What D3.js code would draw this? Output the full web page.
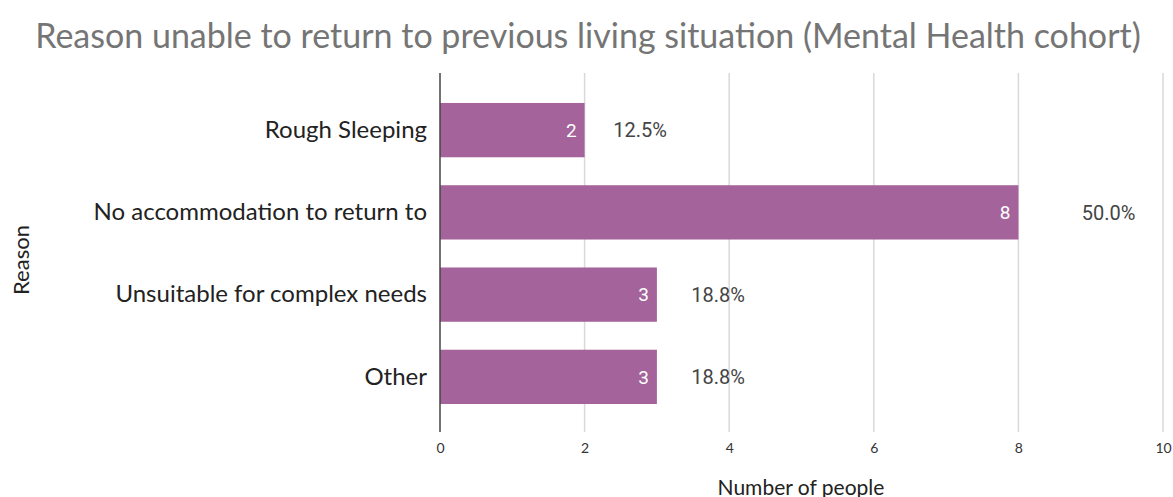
<!DOCTYPE html>
<html>
<head>
<meta charset="utf-8">
<script src="https://cdn.jsdelivr.net/npm/d3@7"></script>
<style>
  body { margin: 0; background: #fff; }
  svg { display: block; }
</style>
</head>
<body>
<div id="chart"></div>
<script>
// data
const reasons = ['Rough Sleeping', 'No accommodation to return to', 'Unsuitable for complex needs', 'Other']
const counts = [2, 8, 3, 3]
const percentLabels = ['12.5%', '50.0%', '18.8%', '18.8%']
const xTicks = [0, 2, 4, 6, 8, 10]

const width = 1173
const height = 497

let svg = d3.select('#chart').append('svg')
  .attr('width', width)
  .attr('height', height)

let x = d3.scaleLinear().domain([0, 10]).range([440, 1163])
let y = d3.scaleBand().domain(reasons).range([89, 418]).paddingInner(0.34).paddingOuter(0.17)

let rows = reasons.map(function(r, i){ return {reason: r, count: counts[i], pct: percentLabels[i]} })

// title
svg.append('text')
  .attr('x', 588)
  .attr('y', 48)
  .attr('text-anchor', 'middle')
  .style('font-family', 'Lato, sans-serif')
  .style('font-size', '34px')
  .style('fill', '#757575')
  .text('Reason unable to return to previous living situation (Mental Health cohort)')

// grid lines
svg.append('g')
  .selectAll('line')
  .data(xTicks.slice(1))
  .enter().append('line')
  .attr('x1', d => x(d))
  .attr('x2', d => x(d))
  .attr('y1', 73)
  .attr('y2', 432)
  .attr('stroke', '#d9d9d9')
  .attr('stroke-width', 1.5)

// x axis tick labels
let xAxis = svg.append('g')
  .attr('transform', 'translate(0,432)')
  .call(d3.axisBottom(x).tickValues(xTicks).tickSize(0).tickPadding(11).tickFormat(d3.format('d')))
xAxis.select('.domain').remove()
xAxis.selectAll('text')
  .style('font-family', 'Lato, sans-serif')
  .style('font-size', '14px')
  .style('fill', '#333')

// bars
svg.append('g')
  .selectAll('rect')
  .data(rows)
  .enter().append('rect')
  .attr('x', x(0))
  .attr('y', d => y(d.reason))
  .attr('width', d => x(d.count) - x(0))
  .attr('height', y.bandwidth())
  .attr('fill', '#a4639a')

// value labels inside bars
svg.append('g')
  .selectAll('text')
  .data(rows)
  .enter().append('text')
  .attr('x', d => x(d.count) - 8)
  .attr('y', d => y(d.reason) + y.bandwidth() / 2)
  .attr('dy', '0.36em')
  .attr('text-anchor', 'end')
  .style('font-family', 'Roboto, sans-serif')
  .style('font-size', '19px')
  .style('fill', '#fff')
  .text(d => d.count)

// percentage labels
svg.append('g')
  .selectAll('text')
  .data(rows)
  .enter().append('text')
  .attr('x', d => x(d.count * 1.08) + 17)
  .attr('y', d => y(d.reason) + y.bandwidth() / 2)
  .attr('dy', '0.36em')
  .style('font-family', 'Roboto, sans-serif')
  .style('font-size', '20px')
  .style('fill', '#444')
  .text(d => d.pct)

// y axis
let yAxis = svg.append('g')
  .attr('transform', 'translate(440,0)')
  .call(d3.axisLeft(y).tickSize(0).tickPadding(13))
yAxis.select('.domain').remove()
yAxis.selectAll('text')
  .style('font-family', 'Lato, sans-serif')
  .style('font-size', '24px')
  .style('fill', '#222')

svg.append('line')
  .attr('x1', 440).attr('x2', 440)
  .attr('y1', 73).attr('y2', 432)
  .attr('stroke', '#444')
  .attr('stroke-width', 1.5)

// axis titles
svg.append('text')
  .attr('x', 801)
  .attr('y', 495)
  .attr('text-anchor', 'middle')
  .style('font-family', 'Lato, sans-serif')
  .style('font-size', '21px')
  .style('fill', '#222')
  .text('Number of people')

svg.append('text')
  .attr('transform', 'translate(29,260) rotate(-90)')
  .attr('text-anchor', 'middle')
  .style('font-family', 'Lato, sans-serif')
  .style('font-size', '22px')
  .style('fill', '#222')
  .text('Reason')
</script>
</body>
</html>
